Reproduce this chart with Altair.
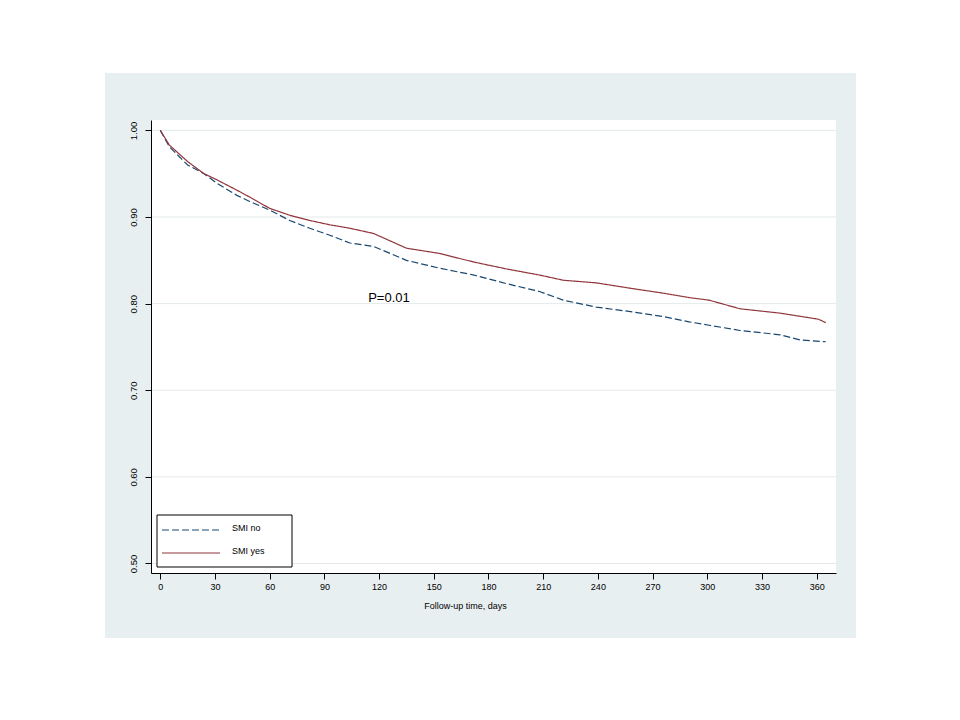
import altair as alt
import pandas as pd

# ---------------- data ----------------
series = ["SMI no", "SMI yes"]

days_no = [0, 5, 15, 24, 31, 42, 49, 60, 71, 82, 93, 104, 117, 135, 153, 172,
           190, 208, 221, 239, 257, 276, 290, 301, 318, 340, 351, 365]
surv_no = [1.000, 0.981, 0.960, 0.950, 0.939, 0.925, 0.918, 0.908, 0.896, 0.887,
           0.879, 0.870, 0.866, 0.850, 0.841, 0.833, 0.823, 0.814, 0.804, 0.796,
           0.791, 0.785, 0.779, 0.775, 0.769, 0.764, 0.758, 0.756]

days_yes = [0, 5, 15, 24, 31, 42, 49, 60, 71, 82, 93, 104, 117, 135, 153, 172,
            190, 208, 221, 239, 257, 276, 290, 301, 318, 340, 361, 365]
surv_yes = [1.000, 0.983, 0.964, 0.950, 0.943, 0.931, 0.923, 0.910, 0.902, 0.896,
            0.891, 0.887, 0.881, 0.864, 0.858, 0.848, 0.840, 0.833, 0.827, 0.824,
            0.818, 0.812, 0.807, 0.804, 0.794, 0.789, 0.782, 0.778]

x_ticks = [0, 30, 60, 90, 120, 150, 180, 210, 240, 270, 300, 330, 360]
y_ticks = [0.50, 0.60, 0.70, 0.80, 0.90, 1.00]
x_title = "Follow-up time, days"

annot_text = ["P=0.01"]
annot_day = [114]
annot_surv = [0.806]

# ---------------- styling ----------------
FONT = "Liberation Sans"
PANEL = "#e8eff1"
GRID = "#e4eaec"
COLORS = ["#1a476f", "#90353b"]
DASHES = [[7, 3], [1, 0]]
W, H = 685, 453

df = pd.concat([
    pd.DataFrame({"day": days_no, "surv": surv_no, "group": series[0]}),
    pd.DataFrame({"day": days_yes, "surv": surv_yes, "group": series[1]}),
])

x_scale = alt.Scale(domain=[-5.1, 370.6], nice=False, zero=False)
y_scale = alt.Scale(domain=[0.489, 1.012], nice=False, zero=False)

x_axis = alt.Axis(values=x_ticks, title=x_title, grid=False, domainColor="black",
                  tickColor="black", tickSize=6, labelPadding=3, labelFont=FONT,
                  labelFontSize=9, labelColor="black", titleFont=FONT,
                  titleFontSize=9, titleFontWeight="normal", titleColor="black",
                  titleX=314, titleY=32, titleBaseline="middle", titleAlign="center",
                  zindex=1)
y_axis = alt.Axis(values=y_ticks, format=".2f", title=None, grid=False,
                  domainColor="black", tickColor="black", tickSize=6,
                  labelAngle=270, labelAlign="center", labelBaseline="bottom",
                  labelPadding=7, labelFont=FONT, labelFontSize=9.5,
                  labelColor="black", zindex=1)

X = alt.X("day:Q", scale=x_scale, axis=x_axis)
Y = alt.Y("surv:Q", scale=y_scale, axis=y_axis)

one = pd.DataFrame({"k": [0]})

panel = alt.Chart(one).mark_rect(color=PANEL).encode(
    x=alt.value(-46), x2=alt.value(705), y=alt.value(-47), y2=alt.value(518))
plotbg = alt.Chart(one).mark_rect(color="white").encode(
    x=alt.value(0), x2=alt.value(W), y=alt.value(0), y2=alt.value(H))

grid = alt.Chart(pd.DataFrame({"surv": y_ticks})).mark_rule(
    color=GRID, strokeWidth=1).encode(y=Y)

lines = alt.Chart(df).mark_line(strokeWidth=1.2, interpolate="linear").encode(
    x=X, y=Y,
    color=alt.Color("group:N", scale=alt.Scale(domain=series, range=COLORS), legend=None),
    strokeDash=alt.StrokeDash("group:N", scale=alt.Scale(domain=series, range=DASHES), legend=None),
    order=alt.Order("day:Q"),
)

annot = alt.Chart(pd.DataFrame({"day": annot_day, "surv": annot_surv, "t": annot_text})).mark_text(
    align="left", baseline="middle", font=FONT, fontSize=13, color="black").encode(
    x=X, y=Y, text="t:N")

# legend (inside plot, bottom-left)
leg_box = alt.Chart(one).mark_rect(fill="white", stroke="black", strokeWidth=1).encode(
    x=alt.value(6), x2=alt.value(141), y=alt.value(395), y2=alt.value(447))
leg_l1 = alt.Chart(one).mark_rule(color=COLORS[0], strokeWidth=1.2, strokeDash=DASHES[0]).encode(
    x=alt.value(11), x2=alt.value(69), y=alt.value(410))
leg_l2 = alt.Chart(one).mark_rule(color=COLORS[1], strokeWidth=1.2).encode(
    x=alt.value(11), x2=alt.value(69), y=alt.value(433))
leg_t1 = alt.Chart(one).mark_text(align="left", baseline="middle", font=FONT,
                                  fontSize=9, color="black").encode(
    x=alt.value(81), y=alt.value(408), text=alt.value(series[0]))
leg_t2 = alt.Chart(one).mark_text(align="left", baseline="middle", font=FONT,
                                  fontSize=9, color="black").encode(
    x=alt.value(81), y=alt.value(431), text=alt.value(series[1]))

chart = alt.layer(
    panel, plotbg, grid, lines, annot, leg_box, leg_l1, leg_l2, leg_t1, leg_t2
).properties(
    width=W, height=H,
    autosize=alt.AutoSizeParams(type="none"),
    padding={"left": 143, "top": 112, "right": 100, "bottom": 120},
).configure(background="white").configure_view(stroke=None)

chart.save("out.html", embed_options={"renderer": "svg", "actions": False})
